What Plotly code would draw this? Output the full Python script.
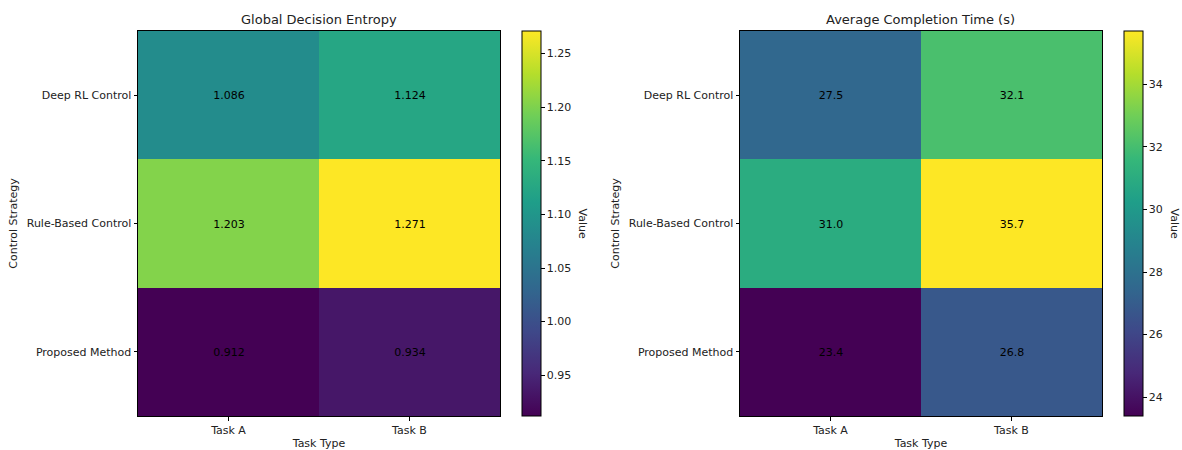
import plotly.graph_objects as go

tasks = ["Task A", "Task B"]
strategies = ["Deep RL Control", "Rule-Based Control", "Proposed Method"]
entropy = [[1.086, 1.124], [1.203, 1.271], [0.912, 0.934]]
completion_time = [[27.5, 32.1], [31.0, 35.7], [23.4, 26.8]]

W, H = 1182, 450
FONT = "DejaVu Sans"


def px_x(v):
    return v / W


def px_y(v):
    return 1 - v / H


fig = go.Figure()

panels = [
    dict(z=entropy, fmt="{:.3f}", title="Global Decision Entropy",
         x0=138, x1=500, cb=522, lab=582, dtick=0.05, tick0=0.95, tfmt=".2f"),
    dict(z=completion_time, fmt="{:.1f}", title="Average Completion Time (s)",
         x0=740, x1=1102, cb=1124, lab=1174, dtick=2, tick0=24, tfmt="d"),
]
top, bottom = 31, 416

for i, p in enumerate(panels):
    ax = "" if i == 0 else str(i + 1)
    zs = [v for row in p["z"] for v in row]
    fig.add_trace(go.Heatmap(
        z=p["z"], x=tasks, y=strategies,
        colorscale="Viridis", zmin=min(zs), zmax=max(zs),
        text=[[p["fmt"].format(v) for v in row] for row in p["z"]],
        texttemplate="%{text}",
        textfont=dict(family=FONT, size=11, color="black"),
        xaxis="x" + ax, yaxis="y" + ax,
        hoverinfo="skip",
        colorbar=dict(
            x=px_x(p["cb"]), xanchor="left", xpad=0,
            y=px_y(bottom), yanchor="bottom", ypad=0,
            len=(bottom - top) / H, lenmode="fraction",
            thickness=19, thicknessmode="pixels",
            outlinecolor="black", outlinewidth=1,
            ticks="outside", ticklen=3.5, tickcolor="black",
            tick0=p["tick0"], dtick=p["dtick"], tickformat=p["tfmt"],
            tickfont=dict(family=FONT, size=11, color="#222"),
        ),
    ))
    axis_common = dict(
        showline=True, linecolor="black", linewidth=1, mirror=True,
        ticks="outside", ticklen=3.5, tickcolor="black",
        showgrid=False, zeroline=False,
        tickfont=dict(family=FONT, size=11, color="#222"),
    )
    fig.update_layout(**{
        "xaxis" + ax: dict(
            domain=[px_x(p["x0"]), px_x(p["x1"])],
            anchor="y" + ax,
            title=dict(text="Task Type", font=dict(family=FONT, size=11, color="#222"), standoff=4),
            **axis_common,
        ),
        "yaxis" + ax: dict(
            domain=[px_y(bottom), px_y(top)],
            anchor="x" + ax,
            autorange="reversed",
            title=dict(text="Control Strategy", font=dict(family=FONT, size=11, color="#222"), standoff=6),
            **axis_common,
        ),
    })
    # panel title
    fig.add_annotation(
        x=(px_x(p["x0"]) + px_x(p["x1"])) / 2, y=px_y(20),
        xref="paper", yref="paper", text=p["title"], showarrow=False,
        font=dict(family=FONT, size=13, color="#222"),
        xanchor="center", yanchor="middle",
    )
    # colorbar label
    fig.add_annotation(
        x=px_x(p["lab"]), y=px_y((top + bottom) / 2),
        xref="paper", yref="paper", text="Value", showarrow=False,
        textangle=90, font=dict(family=FONT, size=11, color="#222"),
        xanchor="center", yanchor="middle",
    )

fig.update_layout(
    width=W, height=H,
    margin=dict(l=0, r=0, t=0, b=0),
    paper_bgcolor="white", plot_bgcolor="white",
    font=dict(family=FONT, size=11, color="#222"),
)

fig.write_html("out.html")
